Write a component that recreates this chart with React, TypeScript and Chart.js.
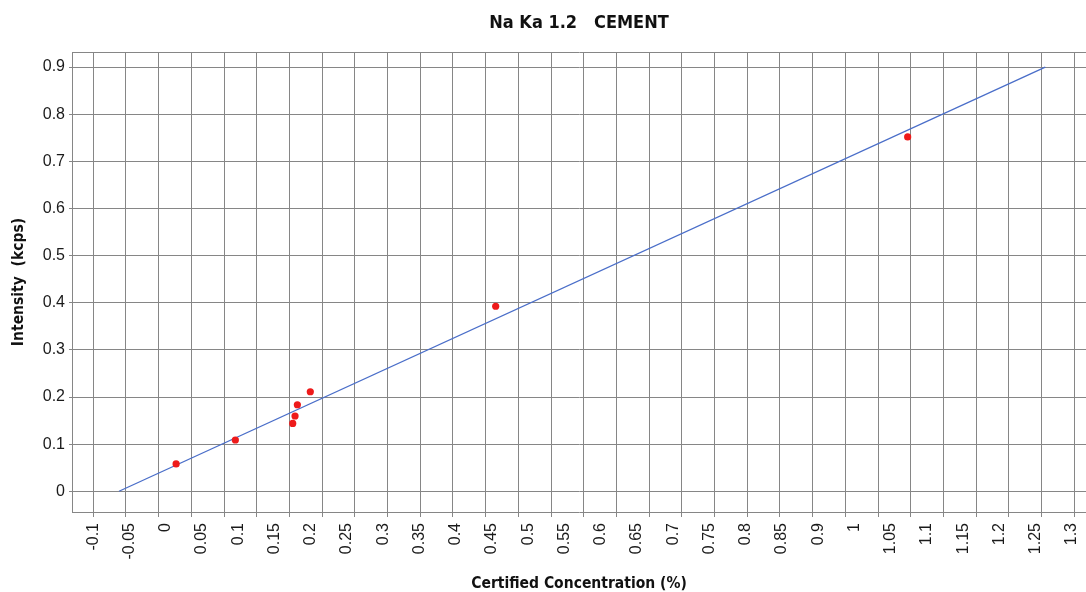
import React, { useEffect, useRef } from "react";
import { Chart, registerables } from "chart.js";

Chart.register(...registerables);

// Measured samples: certified concentration (%) vs intensity (kcps)
const sampleConc = [0.018, 0.0995, 0.1784, 0.1816, 0.1848, 0.2026, 0.4576, 1.0243];
const sampleIntensity = [0.058, 0.1088, 0.144, 0.1597, 0.1836, 0.2111, 0.3926, 0.7518];

// Calibration line end points
const lineConc = [-0.0605, 1.2136];
const lineIntensity = [0, 0.9];

// Axis tick labels
const xTickLabels = [
  "-0.1", "-0.05", "0", "0.05", "0.1", "0.15", "0.2", "0.25", "0.3", "0.35",
  "0.4", "0.45", "0.5", "0.55", "0.6", "0.65", "0.7", "0.75", "0.8", "0.85",
  "0.9", "1", "1.05", "1.1", "1.15", "1.2", "1.25", "1.3",
];
const yTicks = [0, 0.1, 0.2, 0.3, 0.4, 0.5, 0.6, 0.7, 0.8, 0.9];
const xGridLines = Array.from({ length: 31 }, (_, i) => i);

const Y_MIN = -0.044;
const Y_MAX = 0.932;

const GRID = "#868686";
const NARROW = "'Liberation Sans Narrow', 'DejaVu Sans Condensed', 'Liberation Sans', sans-serif";
const SANS = "'Liberation Sans', Arial, sans-serif";

const noSidePadding = (scale: any) => {
  scale.paddingLeft = 0;
  scale.paddingRight = 0;
};

export default function App() {
  const ref = useRef<HTMLCanvasElement | null>(null);

  useEffect(() => {
    if (!ref.current) return;
    const chart = new Chart(ref.current, {
      type: "scatter",
      data: {
        datasets: [
          {
            label: "Samples",
            data: sampleConc.map((x, i) => ({ x, y: sampleIntensity[i] })),
            backgroundColor: "#ee1a1a",
            borderColor: "#ee1a1a",
            pointRadius: 3.6,
            pointBorderWidth: 0,
            showLine: false,
          },
          {
            label: "Calibration",
            data: lineConc.map((x, i) => ({ x, y: lineIntensity[i] })),
            borderColor: "#4a6ec9",
            backgroundColor: "#4a6ec9",
            borderWidth: 1.3,
            pointRadius: 0,
            showLine: true,
          },
        ],
      },
      options: {
        animation: false,
        responsive: false,
        maintainAspectRatio: false,
        layout: { padding: 0, autoPadding: false },
        plugins: {
          legend: { display: false },
          tooltip: { enabled: false },
          title: {
            display: true,
            text: "Na Ka 1.2   CEMENT",
            fullSize: false,
            color: "#111",
            font: { family: NARROW, size: 18, weight: "bold", lineHeight: 1.2 },
            padding: { top: 13, bottom: 17.4 },
          },
        },
        scales: {
          x: {
            type: "linear",
            display: false,
            min: -0.1252,
            max: 1.2696,
            ticks: { display: false },
            afterFit: noSidePadding,
          },
          xg: {
            type: "linear",
            position: "bottom",
            weight: 0,
            min: -0.651,
            max: 30.358,
            afterBuildTicks: (axis: any) => {
              axis.ticks = xGridLines.map((v) => ({ value: v }));
            },
            afterFit: noSidePadding,
            ticks: { display: false },
            grid: { color: GRID, lineWidth: 1, tickLength: 5, tickColor: GRID },
            border: { display: true, color: GRID, width: 1 },
          },
          xl: {
            type: "linear",
            position: "bottom",
            weight: 1,
            min: -0.588,
            max: 27.39,
            afterBuildTicks: (axis: any) => {
              axis.ticks = xTickLabels.map((_, i) => ({ value: i }));
            },
            afterFit: (scale: any) => {
              scale.height = 75;
              noSidePadding(scale);
            },
            grid: { display: false, drawTicks: false },
            border: { display: false },
            ticks: {
              autoSkip: false,
              maxRotation: 90,
              minRotation: 90,
              padding: 6,
              color: "#1a1a1a",
              font: { family: SANS, size: 16 },
              callback: (v: any) => xTickLabels[Math.round(Number(v))] ?? "",
            },
            title: {
              display: true,
              text: "Certified Concentration (%)",
              color: "#111",
              font: { family: NARROW, size: 15.5, weight: "bold", lineHeight: 1 },
              padding: { top: 0, bottom: 0.5 },
            },
          },
          y: {
            type: "linear",
            min: Y_MIN,
            max: Y_MAX,
            afterBuildTicks: (axis: any) => {
              axis.ticks = [...yTicks, Y_MAX].map((v) => ({ value: v }));
            },
            afterFit: (scale: any) => {
              scale.width = 72;
              scale.paddingTop = 0;
              scale.paddingBottom = 0;
            },
            grid: {
              color: GRID,
              lineWidth: 1,
              tickLength: 3,
              tickColor: (ctx: any) =>
                ctx.tick && ctx.tick.value === Y_MAX ? "rgba(0,0,0,0)" : GRID,
            },
            border: { display: true, color: GRID, width: 1 },
            ticks: {
              padding: 4,
              color: "#1a1a1a",
              font: { family: SANS, size: 16 },
              callback: (v: any) => (Number(v) === Y_MAX ? "" : String(v)),
            },
            title: {
              display: true,
              text: "Intensity  (kcps)",
              color: "#111",
              font: { family: NARROW, size: 15.5, weight: "bold", lineHeight: 1.2 },
              padding: { top: 10, bottom: 0 },
            },
          },
        },
      },
    });
    return () => chart.destroy();
  }, []);

  return (
    <div style={{ position: "absolute", left: 0, top: 0, width: 1086, height: 592, background: "#fff" }}>
      <canvas ref={ref} width={1086} height={592} style={{ display: "block" }} />
    </div>
  );
}
